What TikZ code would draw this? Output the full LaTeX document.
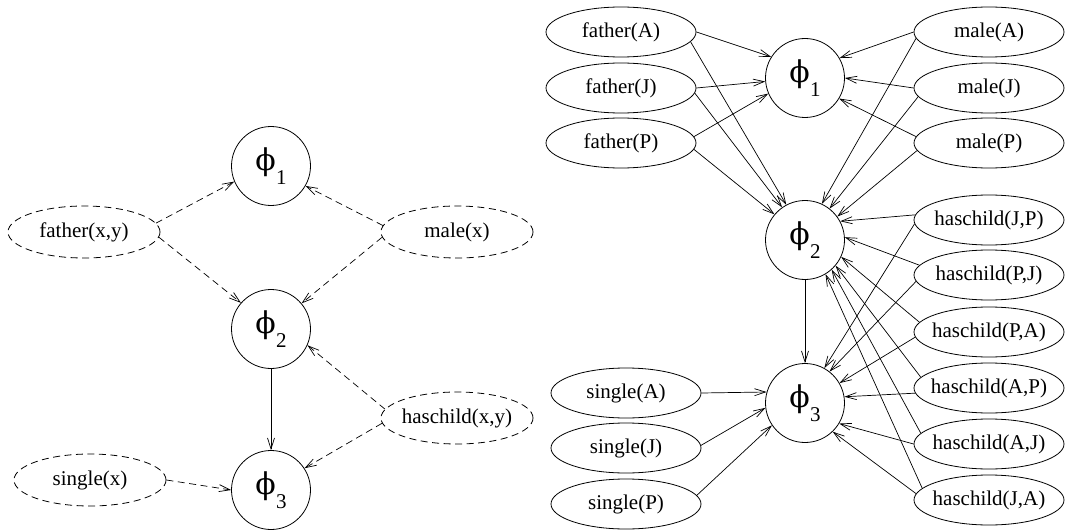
\documentclass[tikz,border=0pt]{standalone}
\usepackage{fontspec}
\setmainfont{Liberation Serif}
\newfontfamily\phif{DejaVu Serif}
\usetikzlibrary{shapes.geometric,arrows.meta}
\newcommand\lbl[1]{\makebox[0pt]{#1}}
\newcommand\phin[1]{{\fontsize{30}{30}\selectfont\phif ϕ}\kern0.5pt\raisebox{-14pt}{#1}}
\begin{document}
\begin{tikzpicture}[x=1pt,y=-1pt,
  ell/.style={ellipse,draw,line width=0.8pt,minimum width=150pt,minimum height=50pt,inner sep=0pt,font=\fontsize{21}{25}\selectfont},
  dell/.style={ell,dash pattern=on 7pt off 4.5pt,minimum width=152pt,minimum height=52pt},
  phic/.style={circle,draw,line width=0.8pt,minimum size=79pt,inner sep=0pt,font=\fontsize{21}{25}\selectfont},
  edge/.style={line width=0.7pt,-{Straight Barb[length=11pt,width=7pt]}},
  dedge/.style={edge,dash pattern=on 7pt off 4.5pt}]
\useasboundingbox (0,0) rectangle (1068,532);
% ---------- left graph ----------
\node[phic] (q1) at (271,166) {\phin{1}};
\node[phic] (q2) at (271,329) {\phin{2}};
\node[phic] (q3) at (271,490) {\phin{3}};
\node[dell] (F) at (84,232) {\lbl{father(x,y)}};
\node[dell] (M) at (457,232) {\lbl{male(x)}};
\node[dell] (H) at (457,418) {\lbl{haschild(x,y)}};
\node[dell] (S) at (90,480) {\lbl{single(x)}};
\draw[dedge] (F.7) -- (q1.203);
\draw[dedge] (F.-4) -- (q2.139);
\draw[dedge] (M.175) -- (q1.-30);
\draw[dedge] (M.184) -- (q2.40);
\draw[dedge] (H.173) -- (q2.-24);
\draw[dedge] (H.184) -- (q3.33);
\draw[dedge] (S.0) -- (q3.180);
\draw[edge] (q2) -- (q3);
% ---------- right graph ----------
\node[phic] (p1) at (805,78) {\phin{1}};
\node[phic] (p2) at (805,240) {\phin{2}};
\node[phic] (p3) at (805,403) {\phin{3}};
\node[ell] (fA) at (621,32) {\lbl{father(A)}};
\node[ell] (fJ) at (621,88) {\lbl{father(J)}};
\node[ell] (fP) at (621,143) {\lbl{father(P)}};
\node[ell] (mA) at (989,32) {\lbl{male(A)}};
\node[ell] (mJ) at (989,88) {\lbl{male(J)}};
\node[ell] (mP) at (989,143) {\lbl{male(P)}};
\node[ell] (hJP) at (989,220) {\lbl{haschild(J,P)}};
\node[ell] (hPJ) at (989,275) {\lbl{haschild(P,J)}};
\node[ell] (hPA) at (989,332) {\lbl{haschild(P,A)}};
\node[ell] (hAP) at (989,388) {\lbl{haschild(A,P)}};
\node[ell] (hAJ) at (989,444) {\lbl{haschild(A,J)}};
\node[ell] (hJA) at (989,500) {\lbl{haschild(J,A)}};
\node[ell] (sA) at (626,393) {\lbl{single(A)}};
\node[ell] (sJ) at (626,448) {\lbl{single(J)}};
\node[ell] (sP) at (626,504) {\lbl{single(P)}};
\draw[edge] (fA.0) -- (p1.148);
\draw[edge] (fA.-8) -- (p2.118);
\draw[edge] (fJ.0) -- (p1.185);
\draw[edge] (fJ.-4) -- (p2.125);
\draw[edge] (fP.5) -- (p1.203);
\draw[edge] (fP.-5) -- (p2.140);
\draw[edge] (mA.180) -- (p1.30);
\draw[edge] (mA.185) -- (p2.65);
\draw[edge] (mJ.180) -- (p1.0);
\draw[edge] (mJ.187) -- (p2.52);
\draw[edge] (mP.175) -- (p1.-31);
\draw[edge] (mP.186) -- (p2.36);
\draw[edge] (p2) -- (p3);
\draw[edge] (hJP.176) -- (p2.28);
\draw[edge] (hJP.183) -- (p3.61);
\draw[edge] (hPJ.172) -- (p2.4);
\draw[edge] (hPJ.185) -- (p3.52);
\draw[edge] (hPA.172) -- (p2.-25);
\draw[edge] (hPA.184) -- (p3.30);
\draw[edge] (hAP.171) -- (p2.-40);
\draw[edge] (hAP.184) -- (p3.9);
\draw[edge] (hAJ.171) -- (p2.-48);
\draw[edge] (hAJ.180) -- (p3.-31);
\draw[edge] (hJA.170) -- (p2.-59);
\draw[edge] (hJA.175) -- (p3.-46);
\draw[edge] (sA.0) -- (p3.164);
\draw[edge] (sJ.2) -- (p3.187);
\draw[edge] (sP.7) -- (p3.214);
\end{tikzpicture}
\end{document}
